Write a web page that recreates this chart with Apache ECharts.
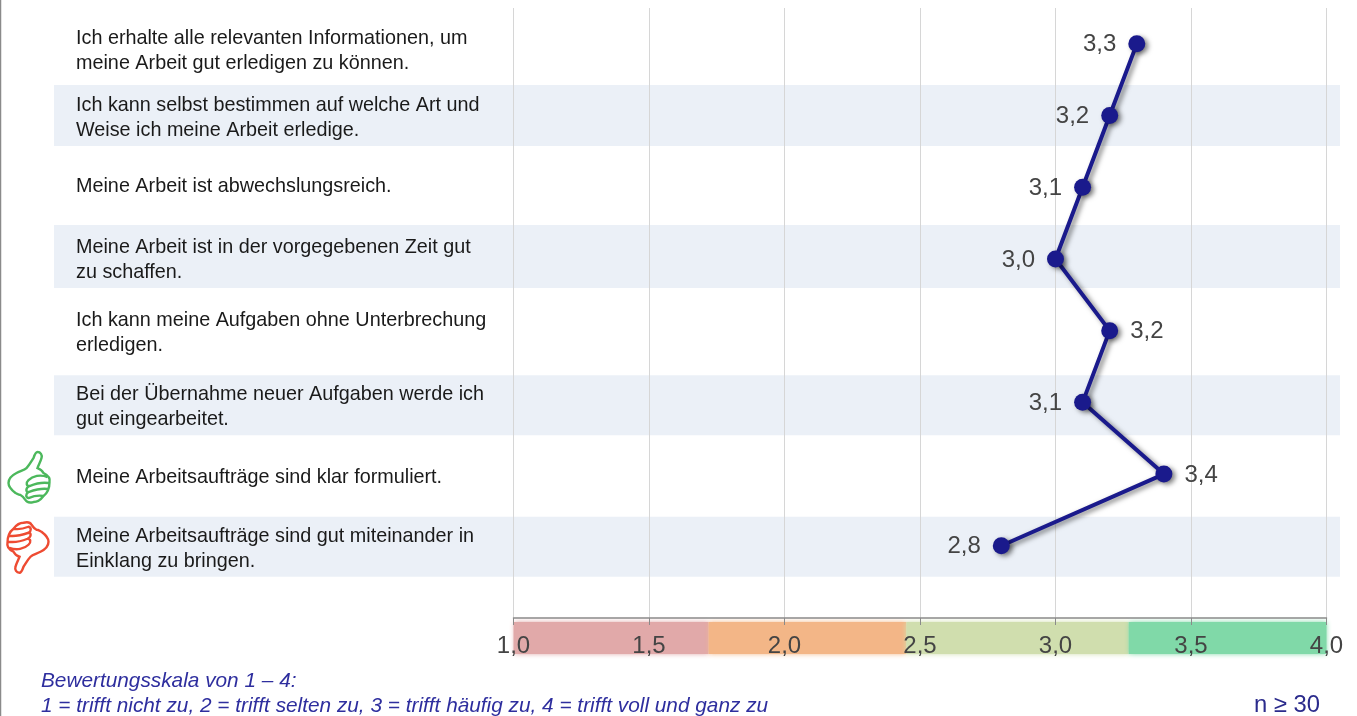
<!DOCTYPE html>
<html lang="de">
<head>
<meta charset="utf-8">
<title>Arbeitsorganisation</title>
<script src="https://cdn.jsdelivr.net/npm/echarts@6/dist/echarts.min.js"></script>
<style>
  html, body { margin: 0; padding: 0; background: #fff; }
  #chart { width: 1357px; height: 716px; }
</style>
</head>
<body>
<div id="chart"></div>
<script>
const questions = [
  "Ich erhalte alle relevanten Informationen, um\nmeine Arbeit gut erledigen zu können.",
  "Ich kann selbst bestimmen auf welche Art und\nWeise ich meine Arbeit erledige.",
  "Meine Arbeit ist abwechslungsreich.",
  "Meine Arbeit ist in der vorgegebenen Zeit gut\nzu schaffen.",
  "Ich kann meine Aufgaben ohne Unterbrechung\nerledigen.",
  "Bei der Übernahme neuer Aufgaben werde ich\ngut eingearbeitet.",
  "Meine Arbeitsaufträge sind klar formuliert.",
  "Meine Arbeitsaufträge sind gut miteinander in\nEinklang zu bringen."
];
const scores = [3.3, 3.2, 3.1, 3.0, 3.2, 3.1, 3.4, 2.8];
const labelSides = ["left", "left", "left", "left", "right", "left", "right", "left"];
const shadedRows = [1, 3, 5, 7];
const scaleFrom = [1, 1.72, 2.45, 3.27];
const scaleTo = [1.72, 2.45, 3.27, 4];
const scaleColors = ["#e1a9a9", "#f3b687", "#d0deae", "#80d9a8"];
const bestRow = 6;
const worstRow = 7;

const FONT = "'Liberation Sans', Arial, sans-serif";
const comma = (v) => v.toFixed(1).replace(".", ",");

// die Texte und Streifen sitzen im Original nicht genau mittig in der Zeile
const rowTextShift = [7, 2, -1, 1, 2, 5, 3, 3];
const bandTop = [-30.5, -34, -27, -29];
const bandBottom = [30.5, 29, 33, 31];

// Daumen, um den Mittelpunkt gezeichnet
const thumbPath =
  "M9,-26 C12,-26 14,-23 13,-20 C12,-16 10,-13 9,-10 C12,-9 14,-7 15,-5 " +
  "C19,-3 22,0 21,4 C21,10 19,15 15,18 C12,22 9,24 5,24 C1,25 -2,24 -3,22 " +
  "C-5,19 -6,18 -8,17 C-10,17 -11,16 -13,15 C-17,12 -20,9 -20,5 " +
  "C-20,0 -16,-3 -12,-5 C-8,-7 -4,-8 -2,-10 C1,-13 3,-17 5,-20 C6,-23 7,-26 9,-26 Z " +
  "M19,-1 C12,-4 4,-2 0,2 C-3,5 -2,8 1,8 C6,6 13,4 20,5 " +
  "M1,8 C-3,10 -3,14 0,14 C6,12 13,10 19,11 " +
  "M0,14 C-3,16 -3,19 0,20 C5,18 10,17 15,18";

const chart = echarts.init(document.getElementById("chart"));

chart.setOption({
  animation: false,
  grid: [
    { left: 513.5, width: 813, top: 8, height: 610 },
    { left: 513.5, width: 813, top: 8, height: 573.6 },
    { left: 54, width: 1286, top: 8, height: 573.6 },
    { left: 513.5, width: 813, top: 622, height: 32 }
  ],
  xAxis: [
    {
      gridIndex: 0,
      type: "value",
      min: 1,
      max: 4,
      interval: 0.5,
      z: 3,
      axisLine: { show: true, lineStyle: { color: "#8a8a8a", width: 1.5 } },
      axisTick: { show: true, length: 7, lineStyle: { color: "#8a8a8a" } },
      axisLabel: {
        margin: 16,
        fontFamily: FONT,
        fontSize: 24,
        color: "#444",
        showMinLabel: true,
        showMaxLabel: true,
        formatter: comma
      },
      splitLine: { show: true, lineStyle: { color: "#d6d6d6", width: 1 } }
    },
    { gridIndex: 1, type: "value", min: 1, max: 4, show: false },
    { gridIndex: 2, type: "value", min: 0, max: 1, show: false },
    { gridIndex: 3, type: "value", min: 1, max: 4, show: false }
  ],
  yAxis: [
    { gridIndex: 0, type: "value", show: false },
    { gridIndex: 1, type: "category", inverse: true, data: questions, show: false },
    { gridIndex: 2, type: "category", inverse: true, data: questions, show: false },
    { gridIndex: 3, type: "value", min: 0, max: 1, show: false }
  ],
  series: [
    {
      // hellblaue Streifen hinter jeder zweiten Zeile
      type: "custom",
      xAxisIndex: 2,
      yAxisIndex: 2,
      z: 0,
      silent: true,
      clip: false,
      data: shadedRows.map((row) => [0, row]),
      renderItem: (params, api) => {
        const start = api.coord([0, api.value(1)]);
        const end = api.coord([1, api.value(1)]);
        const top = bandTop[params.dataIndex];
        return {
          type: "rect",
          shape: {
            x: start[0],
            y: start[1] + top,
            width: end[0] - start[0],
            height: bandBottom[params.dataIndex] - top
          },
          style: { fill: "#ebf0f7" }
        };
      }
    },
    {
      type: "custom",
      xAxisIndex: 3,
      yAxisIndex: 3,
      z: 1,
      silent: true,
      clip: false,
      data: scaleFrom.map((from, i) => [from, scaleTo[i]]),
      renderItem: (params, api) => {
        const start = api.coord([api.value(0), 1]);
        const end = api.coord([api.value(1), 0]);
        return {
          type: "rect",
          shape: { x: start[0], y: start[1], width: end[0] - start[0], height: end[1] - start[1] },
          style: {
            fill: scaleColors[params.dataIndex],
            shadowColor: scaleColors[params.dataIndex],
            shadowBlur: 5
          }
        };
      }
    },
    {
      // Fragetexte, links bündig in jeder Zeile
      type: "custom",
      xAxisIndex: 2,
      yAxisIndex: 2,
      z: 4,
      silent: true,
      clip: false,
      data: questions.map((q, i) => [0, i]),
      renderItem: (params, api) => {
        const row = api.coord([0, api.value(1)]);
        return {
          type: "text",
          x: 76,
          y: row[1] + rowTextShift[params.dataIndex],
          style: {
            text: questions[params.dataIndex],
            font: "19.8px " + FONT,
            lineHeight: 25,
            fill: "#1a1a1a",
            align: "left",
            verticalAlign: "middle"
          }
        };
      }
    },
    {
      // Daumen hoch / runter neben der besten und schlechtesten Zeile
      type: "custom",
      xAxisIndex: 2,
      yAxisIndex: 2,
      z: 2,
      silent: true,
      clip: false,
      data: [[0, bestRow], [0, worstRow]],
      renderItem: (params, api) => {
        const up = params.dataIndex === 0;
        const row = api.coord([0, api.value(1)]);
        return {
          type: "path",
          x: 28.5,
          y: row[1] + (up ? 4 : 1),
          rotation: up ? 0 : Math.PI,
          shape: { pathData: thumbPath },
          style: { fill: "none", stroke: up ? "#4cb85c" : "#ee4b32", lineWidth: 2.4 }
        };
      }
    },
    {
      type: "line",
      xAxisIndex: 1,
      yAxisIndex: 1,
      z: 5,
      silent: true,
      symbol: "circle",
      symbolSize: 17,
      lineStyle: {
        color: "#1a1a8c",
        width: 4,
        shadowColor: "rgba(0,0,0,0.5)",
        shadowBlur: 5,
        shadowOffsetX: 3,
        shadowOffsetY: 2
      },
      itemStyle: {
        color: "#1a1a8c",
        shadowColor: "rgba(0,0,0,0.5)",
        shadowBlur: 5,
        shadowOffsetX: 3,
        shadowOffsetY: 2
      },
      data: scores.map((v, i) => ({
        value: v,
        label: { position: labelSides[i] }
      })),
      label: {
        show: true,
        distance: 12,
        offset: [0, 1],
        fontFamily: FONT,
        fontSize: 24,
        color: "#444",
        formatter: (p) => comma(p.value)
      }
    }
  ],
  graphic: [
    {
      type: "line",
      shape: { x1: 0.5, y1: 0, x2: 0.5, y2: 716 },
      style: { stroke: "#8a8a8a", lineWidth: 1.5 }
    },
    {
      type: "text",
      x: 41,
      y: 669,
      style: {
        text: "Bewertungsskala von 1 – 4:\n1 = trifft nicht zu, 2 = trifft selten zu, 3 = trifft häufig zu, 4 = trifft voll und ganz zu",
        font: "italic 20.8px 'Liberation Sans', Arial, sans-serif",
        lineHeight: 25,
        fill: "#2e2e9e"
      }
    },
    {
      type: "text",
      x: 1254,
      y: 693,
      style: {
        text: "n ≥ 30",
        font: "23.8px 'Liberation Sans', Arial, sans-serif",
        fill: "#2b2b8c"
      }
    }
  ]
});
</script>
</body>
</html>
